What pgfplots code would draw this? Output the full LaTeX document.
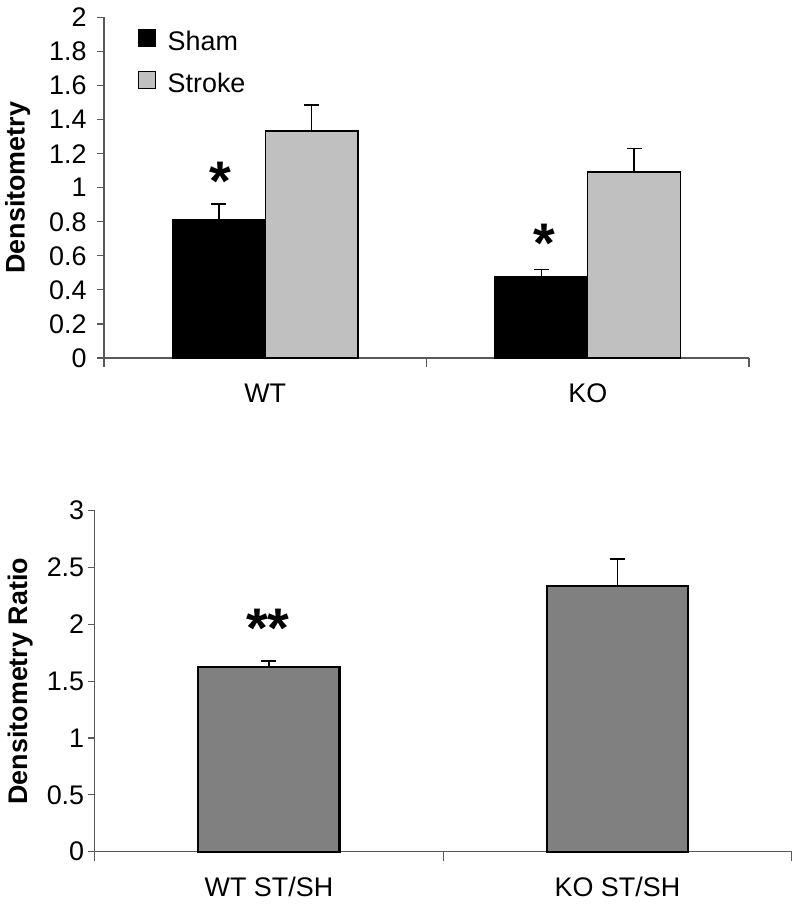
\documentclass[border=0pt]{standalone}
\usepackage{pgfplots}
\pgfplotsset{compat=1.18}
\usepackage{fontspec}
\setmainfont{Liberation Sans}
\definecolor{axgray}{gray}{0.35}
\definecolor{stroke}{RGB}{192,192,192}
\definecolor{ratio}{RGB}{128,128,128}
\begin{document}
\begin{tikzpicture}
\useasboundingbox (0bp,0bp) rectangle (800bp,907bp);
\pgfplotsset{
  mybase/.style={
    scale only axis, anchor=south west,
    axis x line=bottom, axis y line=left,
    axis line style={-, draw=axgray, line width=1.2bp},
    xmin=0, xmax=2, ymin=0,
    xtick={0.5,1.5},
    major x tick style={draw=none},
    extra x ticks={0,1,2}, extra x tick labels={},
    extra x tick style={major tick length=9bp, major x tick style={draw=axgray, line width=1.2bp}},
    tick align=outside,
    major tick length=7bp,
    ytick style={draw=axgray, line width=1.2bp},
    /pgf/number format/assume math mode=true,
    tick label style={font=\fontsize{27}{30}\selectfont},
    xticklabel style={anchor=base, yshift=-38bp},
    yticklabel style={anchor=east},
    ylabel style={font=\bfseries\fontsize{27}{30}\selectfont, anchor=center},
    clip=false,
  },
  mybar/.style={ybar, bar shift=0pt, draw=black, line width=1.3bp,
    error bars/y dir=plus, error bars/y explicit,
    error bars/error bar style={line width=1.6bp, black},
    error bars/error mark options={rotate=90, line width=1.6bp, black, mark size=7.5bp}},
}
% ---------- Top chart ----------
\begin{axis}[mybase, at={(104bp,549bp)}, width=645bp, height=340.5bp,
  ymax=2, ytick={0,0.2,0.4,0.6,0.8,1,1.2,1.4,1.6,1.8,2},
  yticklabel style={xshift=-7bp},
  xticklabels={WT,KO},
  ylabel={Densitometry},
  ylabel style={at={(axis description cs:-0.134,0.5)}},
  bar width=0.288,
  legend style={at={(axis description cs:0,1)}, anchor=north west,
    xshift=33.5bp, yshift=-11bp, draw=none, fill=none, inner sep=0pt,
    font=\fontsize{27}{30}\selectfont, row sep=17bp,
    /tikz/every odd column/.append style={column sep=10bp}},
  legend cell align=left,
]
\addplot[mybar, fill=black,
  legend image code/.code={\draw[fill=black,draw=black,line width=1bp] (0bp,-5.5bp) rectangle (17bp,11.5bp);}]
  coordinates {(0.356,0.815) +- (0,0.090) (1.356,0.475) +- (0,0.045)};
\addlegendentry{Sham}
\addplot[mybar, fill=stroke,
  legend image code/.code={\draw[fill=stroke,draw=black,line width=1bp] (0bp,-5.5bp) rectangle (17bp,11.5bp);}]
  coordinates {(0.644,1.333) +- (0,0.154) (1.644,1.093) +- (0,0.137)};
\addlegendentry{Stroke}
\node[anchor=base, font=\bfseries\fontsize{56}{60}\selectfont, inner sep=0pt] at (axis cs:0.362,0.926) {*};
\node[anchor=base, font=\bfseries\fontsize{56}{60}\selectfont, inner sep=0pt] at (axis cs:1.364,0.563) {*};
\end{axis}
% ---------- Bottom chart ----------
\begin{axis}[mybase, at={(94.7bp,55.3bp)}, width=697bp, height=341bp,
  ymax=3, ytick={0,0.5,1,1.5,2,2.5,3},
  yticklabel style={xshift=0bp},
  xticklabels={WT ST/SH,KO ST/SH},
  ylabel={Densitometry Ratio},
  ylabel style={at={(axis description cs:-0.107,0.5)}},
  bar width=0.405,
]
\addplot[mybar, fill=ratio, line width=2.2bp]
  coordinates {(0.5,1.627) +- (0,0.053) (1.5,2.340) +- (0,0.235)};
\node[anchor=base, font=\bfseries\fontsize{56}{60}\selectfont, inner sep=0pt] at (axis cs:0.497,1.80) {**};
\end{axis}
\end{tikzpicture}
\end{document}
